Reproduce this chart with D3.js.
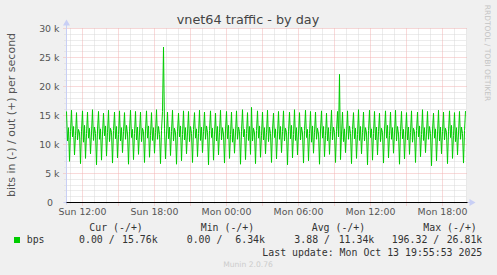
<!DOCTYPE html>
<html>
<head>
<meta charset="utf-8">
<script src="https://cdn.jsdelivr.net/npm/d3@7/dist/d3.min.js"></script>
<style>
  html, body { margin: 0; padding: 0; background: #f0f0f0; }
  svg { display: block; }
</style>
</head>
<body>
<div id="chart"></div>
<script>
// munin "by day" graph: one sample every 5 minutes
const startTime = new Date(2025, 9, 12, 10, 40);
const endTime = new Date(2025, 9, 13, 20, 0);
const stepMinutes = 5;

// out (+) traffic in k bits per second
const outK = [
  15.7, 10.6, 12.9, 7.1, 12.2, 15.9, 11.3, 13.1, 8.2, 11.6,
  15.5, 10.8, 12.6, 12.0, 6.7, 12.3, 15.8, 10.4, 13.3, 7.6,
  11.9, 15.6, 11.1, 12.8, 8.4, 12.0, 16.0, 10.7, 13.0, 11.9,
  6.5, 12.5, 15.7, 10.9, 12.7, 7.3, 11.8, 15.4, 11.5, 13.2,
  8.0, 12.1, 15.9, 10.5, 12.8, 12.1, 6.8, 12.4, 15.6, 11.0,
  13.1, 7.7, 11.7, 15.8, 10.6, 12.9, 8.6, 12.2, 15.5, 10.9,
  13.3, 11.8, 6.6, 12.3, 15.9, 11.2, 12.6, 7.4, 11.9, 15.7,
  10.8, 13.0, 8.3, 12.0, 15.6, 10.5, 12.8, 12.2, 6.9, 12.5,
  15.8, 11.1, 13.2, 7.8, 11.6, 15.5, 10.7, 12.9, 8.5, 12.1,
  16.0, 10.9, 13.1, 11.7, 6.7, 12.4, 15.7, 26.81, 12.7, 7.5,
  11.8, 15.6, 11.0, 13.0, 8.1, 12.2, 15.9, 10.6, 12.8, 12.0,
  6.6, 12.3, 15.4, 11.3, 13.2, 7.2, 11.7, 15.8, 10.8, 12.9,
  8.4, 12.0, 15.7, 10.5, 13.1, 11.9, 6.9, 12.6, 15.5, 11.1,
  12.7, 7.9, 11.9, 15.9, 10.7, 13.0, 8.6, 12.2, 15.6, 10.9,
  13.2, 12.1, 6.5, 12.4, 15.8, 11.2, 12.8, 7.3, 11.8, 15.4,
  10.6, 13.1, 8.2, 12.1, 15.9, 10.8, 12.9, 11.8, 6.8, 12.5,
  15.7, 11.0, 13.3, 7.6, 11.7, 15.6, 10.4, 12.7, 8.5, 12.0,
  15.8, 10.9, 13.0, 12.2, 6.6, 12.3, 16.0, 11.3, 12.6, 7.4,
  11.9, 15.5, 10.7, 13.1, 8.3, 16.4, 10.6, 12.8, 12.0, 6.7,
  12.4, 15.8, 11.1, 13.2, 7.8, 11.6, 15.6, 10.8, 12.9, 8.4,
  12.1, 15.9, 10.5, 13.0, 11.9, 6.9, 12.5, 15.4, 11.2, 12.7,
  7.5, 11.8, 15.7, 10.9, 13.1, 8.6, 12.2, 15.8, 10.6, 12.8,
  12.1, 6.5, 12.3, 15.6, 11.0, 13.3, 7.7, 11.7, 16.0, 10.7,
  12.9, 8.2, 12.0, 15.5, 10.8, 13.0, 12.0, 6.8, 12.4, 15.9,
  11.2, 12.6, 7.2, 11.9, 15.7, 10.4, 13.2, 8.5, 12.1, 15.6,
  10.9, 12.8, 11.8, 6.6, 12.5, 15.8, 11.1, 13.1, 7.9, 11.6,
  15.4, 10.6, 12.9, 8.3, 12.2, 15.9, 10.8, 13.0, 12.1, 6.9,
  12.3, 15.7, 11.3, 22.1, 7.4, 11.8, 15.6, 10.5, 12.7, 8.6,
  12.0, 15.8, 10.9, 13.2, 11.9, 6.7, 12.6, 15.5, 11.0, 12.8,
  7.6, 11.7, 16.0, 10.7, 13.1, 8.4, 12.1, 15.6, 10.6, 12.9,
  12.0, 6.5, 12.4, 15.9, 11.2, 12.7, 7.3, 11.9, 15.7, 10.8,
  13.0, 8.2, 12.2, 15.4, 10.5, 12.8, 12.1, 6.8, 12.5, 15.8,
  11.1, 13.3, 7.7, 11.6, 15.6, 10.9, 12.9, 8.5, 12.0, 15.9,
  10.6, 13.1, 11.8, 6.6, 12.3, 15.7, 11.0, 12.6, 7.5, 11.8,
  15.5, 10.8, 13.0, 8.3, 12.1, 15.8, 10.4, 12.8, 12.2, 6.9,
  12.4, 15.6, 11.3, 13.2, 7.9, 11.7, 16.0, 10.7, 12.9, 8.6,
  12.0, 15.7, 10.9, 13.1, 11.9, 6.34, 12.5, 15.4, 11.1, 12.7,
  7.2, 11.8, 15.9, 10.6, 13.0, 8.4, 12.2, 15.6, 10.8, 12.8,
  12.1, 6.7, 12.3, 15.8, 11.2, 13.3, 7.6, 11.6, 15.5, 10.5,
  12.9, 8.2, 12.0, 15.7, 10.9, 13.0, 11.9, 6.8, 12.4, 15.76
];

const yTicks = [0, 5, 10, 15, 20, 25, 30];
const yTickLabels = ['0', '5 k', '10 k', '15 k', '20 k', '25 k', '30 k'];

const legendHeaders = ['Cur (-/+)', 'Min (-/+)', 'Avg (-/+)', 'Max (-/+)'];
const legendIn = ['0.00', '0.00', '3.88', '196.32'];
const legendOut = ['15.76k', '6.34k', '11.34k', '26.81k'];
const seriesName = 'bps';
const lastUpdate = 'Last update: Mon Oct 13 19:55:53 2025';

const width = 497;
const height = 275;
const plotLeft = 66.5, plotRight = 466.5, plotTop = 28.5, plotBottom = 202.5;
const green = '#00cc00';
const textColor = '#555555';
const sansFont = '"DejaVu Sans", sans-serif';
const monoFont = '"DejaVu Sans Mono", monospace';

const svg = d3.select('#chart').append('svg')
    .attr('width', width)
    .attr('height', height);

svg.append('rect')
    .attr('width', width)
    .attr('height', height)
    .attr('fill', '#f0f0f0');

const x = d3.scaleTime().domain([startTime, endTime]).range([plotLeft, plotRight]);
const y = d3.scaleLinear().domain([0, 30]).range([plotBottom, plotTop]);
const crisp = v => Math.round(v - 0.5) + 0.5;

// plot area
svg.append('rect')
    .attr('x', plotLeft)
    .attr('y', plotTop)
    .attr('width', plotRight - plotLeft)
    .attr('height', plotBottom - plotTop)
    .attr('fill', '#ffffff');

const grid = svg.append('g');

// minor grid, hours and 1k steps
const minorX = x.ticks(d3.timeHour.every(1)).filter(d => d.getHours() % 3 !== 0);
grid.selectAll('.minx').data(minorX).enter().append('line')
    .attr('x1', d => crisp(x(d))).attr('x2', d => crisp(x(d)))
    .attr('y1', plotTop).attr('y2', plotBottom + 2)
    .attr('stroke', '#d8d8d8')
    .attr('stroke-dasharray', '1,1');

const minorY = d3.range(1, 30).filter(v => v % 5 !== 0);
grid.selectAll('.miny').data(minorY).enter().append('line')
    .attr('x1', plotLeft - 2).attr('x2', plotRight)
    .attr('y1', d => crisp(y(d))).attr('y2', d => crisp(y(d)))
    .attr('stroke', '#d8d8d8')
    .attr('stroke-dasharray', '1,1');

// major grid
const majorX = x.ticks(d3.timeHour.every(3));
grid.selectAll('.majx').data(majorX).enter().append('line')
    .attr('x1', d => crisp(x(d))).attr('x2', d => crisp(x(d)))
    .attr('y1', plotTop).attr('y2', plotBottom + 3)
    .attr('stroke', '#f2b4b4')
    .attr('stroke-dasharray', '1,1');

grid.selectAll('.majy').data(yTicks.slice(1)).enter().append('line')
    .attr('x1', plotLeft - 3).attr('x2', plotRight + 1)
    .attr('y1', d => crisp(y(d))).attr('y2', d => crisp(y(d)))
    .attr('stroke', '#f2b4b4')
    .attr('stroke-dasharray', '1,1');

// axes (light blue with arrows)
const axisColor = '#c8cff5';
svg.append('line')
    .attr('x1', plotLeft).attr('x2', plotLeft)
    .attr('y1', plotBottom + 2).attr('y2', plotTop - 4)
    .attr('stroke', axisColor);
svg.append('path')
    .attr('d', `M${plotLeft - 3.5},${plotTop - 3} L${plotLeft + 3.5},${plotTop - 3} L${plotLeft},${plotTop - 9} Z`)
    .attr('fill', axisColor);
svg.append('line')
    .attr('x1', plotLeft - 3).attr('x2', plotRight + 4)
    .attr('y1', plotBottom).attr('y2', plotBottom)
    .attr('stroke', axisColor);
svg.append('path')
    .attr('d', `M${plotRight + 3},${plotBottom - 3.5} L${plotRight + 3},${plotBottom + 3.5} L${plotRight + 9},${plotBottom} Z`)
    .attr('fill', axisColor);

// data line
const times = outK.map((v, i) => d3.timeMinute.offset(startTime, i * stepMinutes));
const line = d3.line()
    .x((d, i) => x(times[i]))
    .y(d => y(d));

svg.append('path')
    .datum(outK)
    .attr('d', line)
    .attr('fill', 'none')
    .attr('stroke', green)
    .attr('stroke-width', 1);

// zero line
svg.append('line')
    .attr('x1', plotLeft).attr('x2', plotRight + 1)
    .attr('y1', plotBottom).attr('y2', plotBottom)
    .attr('stroke', '#000000');

// tick labels
svg.selectAll('.ylab').data(yTicks).enter().append('text')
    .attr('x', (d, i) => i === 0 ? 53 : 59.5)
    .attr('y', d => y(d) + 3.5)
    .attr('text-anchor', 'end')
    .attr('fill', textColor)
    .style('font-family', sansFont)
    .style('font-size', '9.4px')
    .text((d, i) => yTickLabels[i]);

const fmt = d3.timeFormat('%a %H:%M');
svg.selectAll('.xlab').data(x.ticks(d3.timeHour.every(6))).enter().append('text')
    .attr('x', d => x(d))
    .attr('y', 215)
    .attr('text-anchor', 'middle')
    .attr('fill', textColor)
    .style('font-family', sansFont)
    .style('font-size', '9.4px')
    .text(d => fmt(d));

// title and labels
svg.append('text')
    .attr('x', 248)
    .attr('y', 24)
    .attr('text-anchor', 'middle')
    .attr('fill', '#444444')
    .style('font-family', sansFont)
    .style('font-size', '12.8px')
    .text('vnet64 traffic - by day');

svg.append('text')
    .attr('transform', 'translate(15,115) rotate(-90)')
    .attr('text-anchor', 'middle')
    .attr('fill', textColor)
    .style('font-family', sansFont)
    .style('font-size', '11px')
    .text('bits in (-) / out (+) per second');

svg.append('text')
    .attr('transform', 'translate(485,53) rotate(90)')
    .attr('text-anchor', 'middle')
    .attr('fill', '#c4c4c4')
    .style('font-family', sansFont)
    .style('font-size', '7.5px')
    .text('RRDTOOL / TOBI OETIKER');

// legend
const headerX = [89.3, 200.7, 311.7, 423.3];
const inX = [79, 186.7, 294.3, 391.7];
const outX = [157.7, 265, 374.3, 482.3];
const legend = svg.append('g')
    .attr('fill', '#333333')
    .style('font-family', monoFont)
    .style('font-size', '9.9px');

legend.selectAll('.head').data(legendHeaders).enter().append('text')
    .attr('x', (d, i) => headerX[i])
    .attr('y', 231)
    .text(d => d);

legend.append('rect')
    .attr('x', 14).attr('y', 237)
    .attr('width', 6).attr('height', 6)
    .attr('fill', green);

legend.append('text')
    .attr('x', 26.7).attr('y', 243)
    .text(seriesName);

legend.selectAll('.inv').data(legendIn).enter().append('text')
    .attr('x', (d, i) => inX[i])
    .attr('y', 243)
    .text(d => d + ' /');

legend.selectAll('.outv').data(legendOut).enter().append('text')
    .attr('x', (d, i) => outX[i])
    .attr('y', 243)
    .attr('text-anchor', 'end')
    .text(d => d);

legend.append('text')
    .attr('x', 482.3).attr('y', 255.5)
    .attr('text-anchor', 'end')
    .text(lastUpdate);

svg.append('text')
    .attr('x', 248)
    .attr('y', 267)
    .attr('text-anchor', 'middle')
    .attr('fill', '#cccccc')
    .style('font-family', sansFont)
    .style('font-size', '7.6px')
    .text('Munin 2.0.76');
</script>
</body>
</html>
